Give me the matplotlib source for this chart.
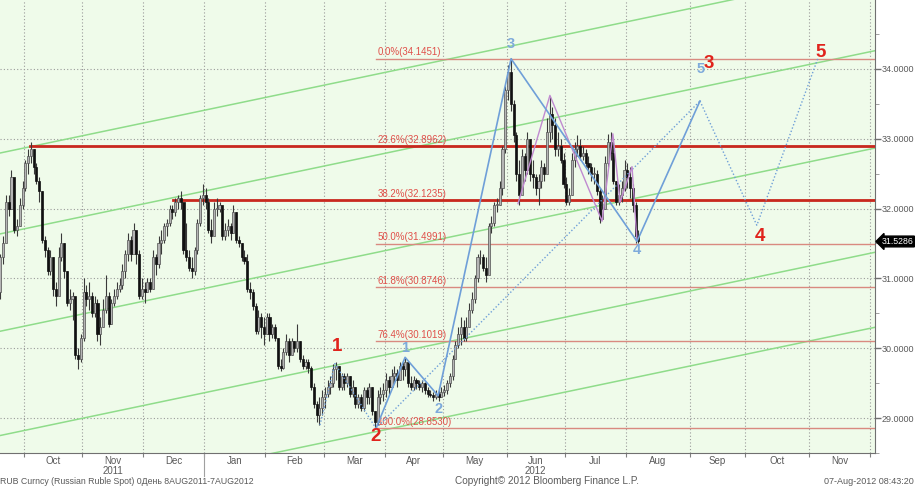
import numpy as np
import pandas as pd
import matplotlib
matplotlib.use('Agg')
import matplotlib.pyplot as plt
import matplotlib.transforms as mtransforms

plt.rcParams['font.family'] = ['Liberation Sans', 'DejaVu Sans']

# ---- dane: RUB Curncy, dzienne swiece (20.09.2011 - 07.08.2012) ----
otwarcie_0 = 30.8
zamkniecie = [
    # wrz
    31.3, 31.5, 32.1, 32.0, 32.45, 31.7, 31.75, 32.05, 32.3,
    # paz
    32.65, 32.75, 32.85, 32.6, 32.4, 32.25, 31.55, 31.4, 31.1, 31.3, 30.85,
    30.75, 31.3, 31.5, 31.1, 30.65, 30.7, 30.75, 29.9, 29.85, 30.15,
    # lis
    30.8, 30.7, 30.75, 30.5, 30.65, 30.2, 30.3, 30.55, 30.75, 30.35, 30.65,
    30.75, 30.85, 30.9, 31.1, 31.35, 31.55, 31.35, 31.7, 31.35, 30.75, 30.85,
    # gru
    30.8, 30.95, 30.85, 31.3, 31.2, 31.5, 31.55, 31.75, 31.8, 32.0, 31.95,
    32.1, 32.15, 32.1, 31.4, 31.3, 31.15, 31.1, 31.4, 31.8, 32.15, 32.2,
    # sty
    32.1, 31.7, 31.6, 32.0, 32.0, 32.05, 31.6, 31.7, 31.75, 31.65, 31.95,
    31.55, 31.5, 31.3, 31.25, 30.85, 30.8, 30.6, 30.25, 30.45, 30.3, 30.2,
    # lut
    30.45, 30.2, 30.3, 30.15, 29.75, 29.72, 29.95, 30.1, 29.9, 30.1, 30.0,
    30.1, 29.85, 29.75, 29.8, 29.72, 29.45, 29.2, 29.05, 29.15, 29.3,
    # mar
    29.35, 29.45, 29.5, 29.7, 29.75, 29.45, 29.6, 29.5, 29.6, 29.35, 29.45,
    29.2, 29.3, 29.15, 29.4, 29.3, 29.45, 29.1, 28.95, 29.3, 29.35, 29.4,
    # kwi
    29.55, 29.45, 29.6, 29.65, 29.55, 29.75, 29.7, 29.8, 29.5, 29.45, 29.55,
    29.5, 29.45, 29.5, 29.4, 29.35, 29.33, 29.3, 29.35, 29.3, 29.38,
    # maj
    29.4, 29.5, 29.6, 29.85, 30.05, 30.2, 30.3, 30.15, 30.3, 30.55, 30.7,
    31.0, 31.3, 31.3, 31.15, 31.05, 31.75, 31.8, 32.05, 32.05, 32.3, 32.85, 33.7,
    # cze
    33.95, 33.5, 33.05, 32.5, 32.2, 32.75, 32.55, 33.0, 32.5, 32.45, 32.3,
    32.4, 32.6, 32.5, 33.1, 33.35, 33.2, 32.85, 32.9, 32.7, 32.35,
    # lip
    32.1, 32.2, 32.7, 32.85, 32.9, 32.75, 32.8, 32.65, 32.6, 32.5, 32.5,
    32.25, 31.85, 32.0, 32.65, 32.95, 32.8, 32.4, 32.1, 32.2, 32.3, 32.55,
    # sie
    32.45, 32.3, 32.05, 31.6, 31.5286,
]
maksimum = [
    31.35, 31.6, 32.2, 32.2, 32.55, 32.3, 31.85, 32.15, 32.4,
    32.7, 32.85, 32.96, 32.85, 32.65, 32.45, 32.25, 31.6, 31.45, 31.4, 31.3,
    30.95, 31.45, 31.65, 31.5, 31.1, 30.85, 30.8, 30.55, 30.0, 30.2,
    31.0, 30.9, 30.95, 30.8, 30.75, 30.7, 30.45, 30.7, 31.05, 30.8, 30.7,
    30.85, 30.95, 31.0, 31.2, 31.4, 31.65, 31.6, 31.8, 31.6, 31.4, 31.0,
    30.95, 31.0, 31.0, 31.4, 31.35, 31.6, 31.7, 31.8, 31.85, 32.05, 32.05,
    32.15, 32.2, 32.25, 32.05, 31.8, 31.4, 31.3, 31.45, 31.85, 32.2, 32.35,
    32.3, 32.15, 31.85, 32.1, 32.15, 32.1, 32.0, 31.8, 31.85, 31.8, 32.05,
    31.95, 31.6, 31.5, 31.4, 31.35, 30.95, 30.85, 30.65, 30.55, 30.5, 30.45,
    30.5, 30.5, 30.35, 30.35, 30.15, 29.85, 30.0, 30.2, 30.15, 30.15, 30.1,
    30.35, 30.1, 29.9, 29.85, 29.85, 29.75, 29.5, 29.25, 29.3, 29.4,
    29.45, 29.55, 29.6, 29.78, 29.8, 29.75, 29.65, 29.65, 29.65, 29.6, 29.55,
    29.45, 29.35, 29.35, 29.45, 29.45, 29.5, 29.45, 29.1, 29.4, 29.45, 29.5,
    29.65, 29.6, 29.7, 29.75, 29.7, 29.8, 29.8, 29.88, 29.8, 29.6, 29.6,
    29.58, 29.55, 29.55, 29.52, 29.45, 29.4, 29.38, 29.4, 29.4, 29.45,
    29.48, 29.55, 29.65, 29.9, 30.1, 30.3, 30.45, 30.4, 30.45, 30.65, 30.8,
    31.05, 31.35, 31.4, 31.35, 31.3, 31.8, 31.9, 32.1, 32.15, 32.4, 32.9, 33.75,
    34.05, 34.15, 33.55, 33.1, 32.7, 32.85, 32.8, 33.1, 32.9, 32.7, 32.5,
    32.5, 32.7, 32.65, 33.3, 33.6, 33.45, 33.3, 33.1, 33.0, 32.8,
    32.45, 32.3, 32.8, 32.95, 33.05, 33.0, 32.9, 32.85, 32.75, 32.65, 32.6,
    32.55, 32.3, 32.2, 32.75, 33.07, 33.1, 32.95, 32.4, 32.35, 32.4, 32.7,
    32.65, 32.6, 32.35, 32.1, 31.7,
]
minimum = [
    30.7, 31.2, 31.6, 31.9, 32.0, 31.65, 31.6, 31.75, 32.0,
    32.25, 32.5, 32.65, 32.5, 32.35, 32.1, 31.5, 31.3, 31.05, 31.05, 30.75,
    30.6, 30.8, 31.25, 31.0, 30.6, 30.55, 30.4, 29.85, 29.7, 29.8,
    30.1, 30.6, 30.55, 30.45, 30.45, 30.1, 30.05, 30.3, 30.5, 30.3, 30.35,
    30.6, 30.7, 30.8, 30.85, 31.0, 31.25, 31.25, 31.4, 31.2, 30.7, 30.7,
    30.65, 30.8, 30.8, 30.85, 31.05, 31.15, 31.35, 31.5, 31.6, 31.75, 31.85,
    31.9, 32.0, 32.0, 31.35, 31.25, 31.1, 31.0, 31.05, 31.35, 31.75, 32.05,
    32.0, 31.65, 31.5, 31.65, 31.9, 31.95, 31.55, 31.55, 31.6, 31.55, 31.65,
    31.5, 31.45, 31.25, 31.2, 30.8, 30.7, 30.55, 30.2, 30.2, 30.15, 30.05,
    30.2, 30.1, 30.15, 30.1, 29.7, 29.68, 29.7, 29.9, 29.8, 29.9, 29.95,
    29.95, 29.8, 29.7, 29.7, 29.65, 29.4, 29.15, 28.95, 28.9, 29.05,
    29.15, 29.3, 29.35, 29.45, 29.55, 29.4, 29.4, 29.4, 29.45, 29.3, 29.3,
    29.15, 29.15, 29.1, 29.1, 29.2, 29.2, 29.05, 28.85, 28.9, 29.2, 29.25,
    29.3, 29.35, 29.45, 29.5, 29.45, 29.55, 29.55, 29.6, 29.45, 29.4, 29.4,
    29.42, 29.4, 29.38, 29.35, 29.3, 29.3, 29.25, 29.28, 29.25, 29.3,
    29.32, 29.35, 29.45, 29.55, 29.85, 30.0, 30.05, 30.1, 30.1, 30.3, 30.5,
    30.65, 30.95, 31.2, 31.1, 30.95, 31.1, 31.65, 31.75, 31.95, 32.05, 32.2, 32.8,
    33.55, 33.4, 32.95, 32.4, 32.05, 32.3, 32.4, 32.5, 32.4, 32.3, 32.2,
    32.05, 32.3, 32.4, 32.6, 32.95, 33.0, 32.75, 32.75, 32.65, 32.3,
    32.05, 32.05, 32.2, 32.6, 32.75, 32.7, 32.7, 32.6, 32.5, 32.4, 32.35,
    32.2, 31.8, 31.85, 32.0, 32.6, 32.7, 32.35, 32.05, 32.05, 32.1, 32.25,
    32.3, 32.15, 31.95, 31.5, 31.5,
]

# poziomy Fibonacciego (od szczytu 34.1451 do dolka 28.8530)
fib_poziomy = [34.1451, 32.8962, 32.1235, 31.4991, 30.8746, 30.1019, 28.8530]
fib_procenty = ['0.0%', '23.6%', '38.2%', '50.0%', '61.8%', '76.4%', '100.0%']
fib_start = 135.4          # numer sesji, od ktorej ciagna sie linie

# grube linie oporu (start, poziom)
opory_start = [10.7, 62.2]
opory_poziom = [32.8962, 32.1235]

# kanaly (zielone rownolegle linie): poziom na lewym i prawym brzegu
kanal_lewy = [32.795, 31.637, 30.243, 28.75, 27.68]
kanal_prawy = [35.418, 34.26, 32.866, 31.374, 30.30]

# fale (numer sesji, cena)
fala_x = [135.4, 145.9, 157.8, 184.1, 229.5, 252.2]
fala_y = [28.853, 29.87, 29.32, 34.1451, 31.53, 33.54]
proj_x = [252.2, 272.7, 294.7]
proj_y = [33.54, 31.76, 34.15]
kropki_x = [115.2, 120.6, 135.4]
kropki_y = [28.9, 29.78, 28.853]
trend_x = [135.4, 252.2]
trend_y = [28.853, 33.54]
fiolet_x = [186.6, 198.1, 216.9, 220.8, 223.4, 227.7, 229.5]
fiolet_y = [32.07, 33.62, 31.82, 33.07, 32.09, 32.6, 31.53]

etyk_czerw = ['1', '2', '3', '4', '5']
etyk_czerw_x = [121.3, 135.4, 255.5, 273.8, 295.8]
etyk_czerw_y = [30.02, 28.74, 34.07, 31.6, 34.24]
etyk_nieb = ['1', '2', '3', '4', '5']
etyk_nieb_x = [145.8, 157.8, 184.1, 229.5, 252.6]
etyk_nieb_y = [30.0, 29.13, 34.36, 31.4, 34.0]

miesiace = ['Oct', 'Nov', 'Dec', 'Jan', 'Feb', 'Mar', 'Apr', 'May', 'Jun',
            'Jul', 'Aug', 'Sep', 'Oct', 'Nov']

# ---- os czasu: dni robocze ----
dni = pd.bdate_range('2011-09-20', '2012-12-31')
n = len(zamkniecie)
x = np.arange(n)
c = np.array(zamkniecie)
o = np.concatenate([[otwarcie_0], c[:-1]])
h = np.array(maksimum)
l = np.array(minimum)

# granice miesiecy (polowa odstepu przed pierwsza sesja miesiaca)
ser = pd.Series(np.arange(len(dni)), index=dni)
pierwsze = ser.groupby([dni.year, dni.month]).first().values
granice = pierwsze[1:] - 0.5          # od pazdziernika 2011
srodki = (granice[:-1] + granice[1:]) / 2

zielony = '#8fdc8a'
tlo = '#effbea'
szary_txt = '#5a5a5a'

fig = plt.figure(figsize=(9.15, 4.88), dpi=100)
ax = fig.add_axes([0.0, 0.0717, 0.9563, 0.9283])
ax.set_facecolor(tlo)

xmin, xmax = -0.14, 315.3
ax.set_xlim(xmin, xmax)
ax.set_ylim(28.667, 34.986)

# siatka
for g in granice:
    ax.axvline(g, color='#9a9a9a', lw=0.8, ls=(0, (1, 2)), zorder=1)
for yy in range(29, 35):
    ax.axhline(yy, color='#9a9a9a', lw=0.8, ls=(0, (1, 2)), zorder=1)

# kanaly
for yl, yp in zip(kanal_lewy, kanal_prawy):
    ax.plot([xmin, xmax], [yl, yp], color=zielony, lw=1.1, zorder=2)

# fibo
for poz, pr in zip(fib_poziomy, fib_procenty):
    ax.plot([fib_start, xmax], [poz, poz], color='#d98a80', lw=1.0, zorder=2)
    ax.text(fib_start + 0.5, poz + 0.02, f'{pr}({poz:.4f})', color='#e0504a',
            fontsize=7, va='bottom', ha='left', zorder=6)
for st, poz in zip(opory_start, opory_poziom):
    ax.plot([st, xmax], [poz, poz], color='#c8281e', lw=2.0, zorder=3)

# swiece
wzrost = c >= o
dol = np.minimum(o, c)
wys = np.maximum(np.abs(c - o), 0.012)
ax.vlines(x, l, h, color='#3a3a3a', lw=0.8, zorder=4)
ax.bar(x[wzrost], wys[wzrost], bottom=dol[wzrost], width=0.75,
       color='#b5b5b5', edgecolor='#505050', lw=0.5, zorder=5)
ax.bar(x[~wzrost], wys[~wzrost], bottom=dol[~wzrost], width=0.75,
       color='#111111', edgecolor='#111111', lw=0.5, zorder=5)

# fale
nieb = '#6f9fd8'
ax.plot(kropki_x, kropki_y, color=nieb, lw=1.0, ls=(0, (1, 1.5)), zorder=6)
ax.plot(trend_x, trend_y, color=nieb, lw=1.0, ls=(0, (1, 1.5)), zorder=6)
ax.plot(proj_x, proj_y, color=nieb, lw=1.0, ls=(0, (1, 1.5)), zorder=6)
ax.plot(fiolet_x, fiolet_y, color='#c08ad0', lw=1.0, zorder=6)
ax.plot(fala_x, fala_y, color=nieb, lw=1.2, zorder=7)

for t, xx, yy in zip(etyk_czerw, etyk_czerw_x, etyk_czerw_y):
    ax.text(xx, yy, t, color='#e0231c', fontsize=13.5, fontweight='bold',
            ha='center', va='center', zorder=8)
for t, xx, yy in zip(etyk_nieb, etyk_nieb_x, etyk_nieb_y):
    ax.text(xx, yy, t, color='#7eaadb', fontsize=10.5, fontweight='bold',
            ha='center', va='center', zorder=8)

# os Y po prawej
ax.yaxis.tick_right()
ax.set_yticks(range(29, 35))
ax.set_yticklabels([f'{v:.4f}' for v in range(29, 35)])
ax.set_yticks(np.arange(28.5, 35, 0.5), minor=True)
ax.tick_params(axis='y', which='major', direction='out', length=4, width=1,
               colors='#707070', labelsize=6.5, labelcolor=szary_txt, pad=1)
ax.tick_params(axis='y', which='minor', direction='out', length=3,
               colors='#909090')

# ostatnia cena
tr = mtransforms.blended_transform_factory(ax.transAxes, ax.transData)
ax.text(1.0075, c[-1], f'{c[-1]:.4f}', transform=tr, color='white',
        fontsize=6.3, va='center', ha='left',
        bbox=dict(boxstyle='larrow,pad=0.1', fc='black', ec='black'),
        clip_on=False, zorder=10)

# os X
ax.set_xticks(granice)
ax.set_xticklabels([])
ax.set_xticks(srodki, minor=True)
ax.set_xticklabels(miesiace, minor=True)
ax.tick_params(axis='x', which='major', direction='out', length=3,
               colors='#808080')
ax.tick_params(axis='x', which='minor', length=0, labelsize=7,
               labelcolor=szary_txt, pad=2)
trx = mtransforms.blended_transform_factory(ax.transData, ax.transAxes)
ax.text(srodki[1], -0.028, '2011', transform=trx, ha='center', va='top',
        fontsize=7, color=szary_txt)
ax.text(srodki[8], -0.028, '2012', transform=trx, ha='center', va='top',
        fontsize=7, color=szary_txt)
ax.plot([granice[3], granice[3]], [0, -0.05], transform=trx, color='#a0a0a0',
        lw=0.8, clip_on=False)

for s in ['top', 'left']:
    ax.spines[s].set_visible(False)
for s in ['right', 'bottom']:
    ax.spines[s].set_color('#707070')

fig.text(0.0, 0.004, 'RUB Curncy (Russian Ruble Spot) 0День 8AUG2011-7AUG2012',
         fontsize=6.3, color=szary_txt, ha='left', va='bottom')
fig.text(0.497, 0.004, 'Copyright\u00a9 2012 Bloomberg Finance L.P.',
         fontsize=7.2, color=szary_txt, ha='left', va='bottom')
fig.text(0.999, 0.004, '07-Aug-2012 08:43:20', fontsize=6.5, color=szary_txt,
         ha='right', va='bottom')

fig.savefig('out.png', dpi=100)
